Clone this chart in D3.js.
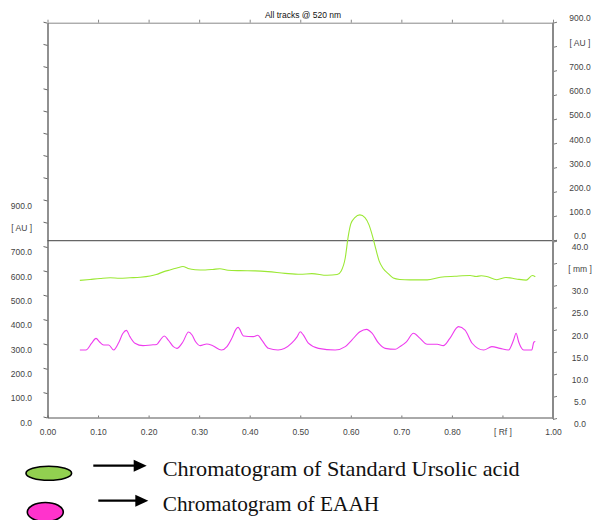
<!DOCTYPE html>
<html>
<head>
<meta charset="utf-8">
<script src="https://cdn.jsdelivr.net/npm/d3@7"></script>
<style>
  body { margin: 0; background: #fff; }
  svg text { font-family: "Liberation Sans", Arial, sans-serif; }
</style>
</head>
<body>
<div id="chart"></div>
<script>
// chromatogram data (Rf vs AU)
const rfGreen = [0.064, 0.084, 0.104, 0.124, 0.143, 0.163, 0.183, 0.203, 0.215, 0.229, 0.242, 0.256, 0.268, 0.278, 0.292,
  0.312, 0.327, 0.341, 0.357, 0.381, 0.411, 0.436, 0.470, 0.500, 0.523, 0.553, 0.573, 0.581, 0.589, 0.595, 0.600,
  0.608, 0.618, 0.628, 0.636, 0.644, 0.650, 0.656, 0.664, 0.674, 0.684, 0.697, 0.717, 0.751, 0.777, 0.806, 0.836,
  0.848, 0.858, 0.869, 0.889, 0.907, 0.927, 0.947, 0.959, 0.965];
const auGreen = [563, 567, 571, 574, 572, 574, 576, 581, 587, 598, 606, 614, 620, 612, 607,
  606, 608, 611, 605, 603, 602, 599, 592, 588, 591, 584, 587, 602, 655, 745, 795,
  823, 835, 823, 791, 737, 688, 643, 612, 591, 573, 567, 565, 565, 576, 580, 583,
  579, 582, 579, 566, 575, 569, 564, 583, 578];

const rfMagenta = [0.064, 0.076, 0.087, 0.096, 0.103, 0.111, 0.121, 0.131, 0.141, 0.149, 0.156, 0.163, 0.173, 0.189,
  0.205, 0.216, 0.223, 0.231, 0.239, 0.249, 0.256, 0.268, 0.279, 0.286, 0.293, 0.302, 0.315, 0.327, 0.344, 0.355,
  0.365, 0.373, 0.377, 0.388, 0.407, 0.416, 0.424, 0.437, 0.456, 0.483, 0.494, 0.500, 0.506, 0.516, 0.536, 0.569,
  0.589, 0.602, 0.618, 0.631, 0.642, 0.655, 0.668, 0.688, 0.697, 0.710, 0.724, 0.737, 0.751, 0.771, 0.783, 0.796,
  0.813, 0.826, 0.840, 0.863, 0.879, 0.895, 0.912, 0.922, 0.927, 0.932, 0.942, 0.958, 0.962, 0.965];
const auMagenta = [277, 277, 304, 325, 310, 298, 298, 277, 308, 345, 358, 332, 305, 295,
  298, 300, 318, 335, 318, 291, 284, 311, 351, 339, 311, 295, 302, 295, 277, 291,
  327, 363, 370, 335, 332, 338, 318, 284, 277, 305, 332, 352, 339, 305, 284, 277,
  291, 318, 352, 362, 346, 305, 284, 280, 291, 311, 346, 325, 301, 301, 295, 325,
  373, 359, 305, 277, 291, 284, 277, 318, 346, 311, 277, 277, 309, 312];

// tick values and labels
const xTicks = [0, 0.1, 0.2, 0.3, 0.4, 0.5, 0.6, 0.7, 0.8, 0.9, 1.0];
const xTickLabels = ["0.00", "0.10", "0.20", "0.30", "0.40", "0.50", "0.60", "0.70", "0.80", "[ Rf ]", "1.00"];
const leftTicks = d3.range(0, 1800, 100);
const leftTickLabels = ["0.0", "100.0", "200.0", "300.0", "400.0", "500.0", "600.0", "700.0", "[ AU ]", "900.0"];
const rightTopTicks = d3.range(0, 1000, 100);
const rightTopLabels = ["0.0", "100.0", "200.0", "300.0", "400.0", "500.0", "600.0", "700.0", "[ AU ]", "900.0"];
const rightBottomTicks = d3.range(0, 45, 5);
const rightBottomLabels = ["0.0", "5.0", "10.0", "15.0", "20.0", "25.0", "30.0", "[ mm ]", "40.0"];

const title = "All tracks @ 520 nm";
const legendLabels = ["Chromatogram of Standard Ursolic acid", "Chromatogram of EAAH"];
const legendColors = ["#92d050", "#ff33cc"];

// dimensions
const width = 597;
const height = 520;
const plot = { left: 47.5, right: 553, top: 22.7, bottom: 417.5, split: 240.7 };

var svg = d3.select("#chart")
    .append("svg")
    .attr("width", width)
    .attr("height", height);

// scales
var x = d3.scaleLinear().domain([0, 1]).range([plot.left, plot.right]);
// left AU axis is slightly compressed above 800 (perspective of the scan plot)
var yLeft = d3.scaleLinear().domain([0, 800, 1700]).range([plot.bottom, 222.7, plot.top]);
var yRightTop = d3.scaleLinear().domain([0, 900]).range([plot.split, plot.top]);
var yRightBottom = d3.scaleLinear().domain([0, 40]).range([419, 241.7]);

// title
svg.append("text")
    .attr("x", 303)
    .attr("y", 17.5)
    .attr("text-anchor", "middle")
    .style("font-size", "8.5px")
    .style("fill", "#111")
    .text(title);

// top border with ticks
svg.append("g")
    .attr("transform", "translate(0," + plot.top + ")")
    .call(d3.axisTop(x).tickValues(xTicks).tickSize(3).tickSizeOuter(0).tickFormat(""))
    .call(g => g.select(".domain").attr("stroke", "#888"))
    .call(g => g.selectAll(".tick line").attr("stroke", "#888"));

// split line between the two panels
svg.append("line")
    .attr("x1", plot.left).attr("x2", plot.right + 4)
    .attr("y1", plot.split).attr("y2", plot.split)
    .style("stroke", "#666")
    .style("stroke-width", 1.2);

// bottom axis
svg.append("g")
    .attr("transform", "translate(0," + plot.bottom + ")")
    .call(d3.axisBottom(x).tickValues(xTicks).tickSize(-2).tickSizeOuter(0).tickPadding(11)
        .tickFormat((d, i) => xTickLabels[i]))
    .call(g => g.select(".domain").attr("stroke", "#555"))
    .call(g => g.selectAll(".tick line").attr("stroke", "#777"))
    .call(g => g.selectAll(".tick text").style("font-size", "8.5px").style("fill", "#444"));

// left axis
svg.append("g")
    .attr("transform", "translate(" + plot.left + ",0)")
    .call(d3.axisLeft(yLeft).tickValues(leftTicks).tickSize(4).tickSizeOuter(0).tickPadding(11.5)
        .tickFormat((d, i) => leftTickLabels[i] || ""))
    .call(g => g.select(".domain").attr("stroke", "#555").attr("stroke-width", 1.3))
    .call(g => g.selectAll(".tick line").attr("y2", -1).attr("stroke", "#666"))
    .call(g => g.selectAll(".tick text").attr("y", 5).style("font-size", "8.5px").style("fill", "#444"));

// right axis, upper panel (AU)
svg.append("g")
    .attr("transform", "translate(" + plot.right + ",0)")
    .call(d3.axisRight(yRightTop).tickValues(rightTopTicks).tickSize(4).tickSizeOuter(0)
        .tickFormat((d, i) => rightTopLabels[i]))
    .call(g => g.select(".domain").remove())
    .call(g => g.selectAll(".tick line").attr("y2", -1).attr("stroke", "#777"))
    .call(g => g.selectAll(".tick text").attr("x", 27).attr("y", -4.5).attr("text-anchor", "middle")
        .style("font-size", "8.5px").style("fill", "#444"));

// right axis, lower panel (mm)
svg.append("g")
    .attr("transform", "translate(" + plot.right + ",0)")
    .call(d3.axisRight(yRightBottom).tickValues(rightBottomTicks).tickSize(4).tickSizeOuter(0)
        .tickFormat((d, i) => rightBottomLabels[i]))
    .call(g => g.select(".domain").remove())
    .call(g => g.selectAll(".tick line").attr("y2", -1).attr("stroke", "#777"))
    .call(g => g.selectAll(".tick text").attr("x", 27).attr("y", 5).attr("text-anchor", "middle")
        .style("font-size", "8.5px").style("fill", "#444"));

// right border
svg.append("line")
    .attr("x1", plot.right).attr("x2", plot.right)
    .attr("y1", plot.top).attr("y2", 419)
    .style("stroke", "#8a8a8a")
    .style("stroke-width", 2);

// chromatogram traces
var line = d3.line()
    .x(d => x(d[0]))
    .y(d => yLeft(d[1]))
    .curve(d3.curveMonotoneX);

svg.append("path")
    .datum(d3.zip(rfGreen, auGreen))
    .attr("fill", "none")
    .attr("stroke", "#9be834")
    .attr("stroke-width", 1.1)
    .attr("d", line);

svg.append("path")
    .datum(d3.zip(rfMagenta, auMagenta))
    .attr("fill", "none")
    .attr("stroke", "#ee3cee")
    .attr("stroke-width", 1.1)
    .attr("d", line);

// legend below the chart
var legendRows = [
    { cx: 48.8, cy: 473.3, rx: 22.8, ry: 7, ax1: 93.3, ax2: 146.7, ay: 465.7, ty: 476.3, tl: 357 },
    { cx: 45.3, cy: 512, rx: 18, ry: 9.5, ax1: 98.3, ax2: 148.3, ay: 500.7, ty: 511.3, tl: 216.5 }
];

legendRows.forEach(function(r, i) {
    svg.append("ellipse")
        .attr("cx", r.cx).attr("cy", r.cy)
        .attr("rx", r.rx).attr("ry", r.ry)
        .style("fill", legendColors[i])
        .style("stroke", "#000")
        .style("stroke-width", 1.6);

    svg.append("line")
        .attr("x1", r.ax1).attr("x2", r.ax2 - 12)
        .attr("y1", r.ay).attr("y2", r.ay)
        .style("stroke", "#000")
        .style("stroke-width", 2.2);

    svg.append("path")
        .attr("d", "M" + (r.ax2 - 13) + "," + (r.ay - 6) + "L" + r.ax2 + "," + r.ay + "L" + (r.ax2 - 13) + "," + (r.ay + 6) + "Z")
        .style("fill", "#000");

    svg.append("text")
        .attr("x", 162.7)
        .attr("y", r.ty)
        .attr("textLength", r.tl)
        .attr("lengthAdjust", "spacingAndGlyphs")
        .style("font-family", "'Liberation Serif', 'Times New Roman', serif")
        .style("font-size", "21px")
        .style("fill", "#111")
        .text(legendLabels[i]);
});
</script>
</body>
</html>
